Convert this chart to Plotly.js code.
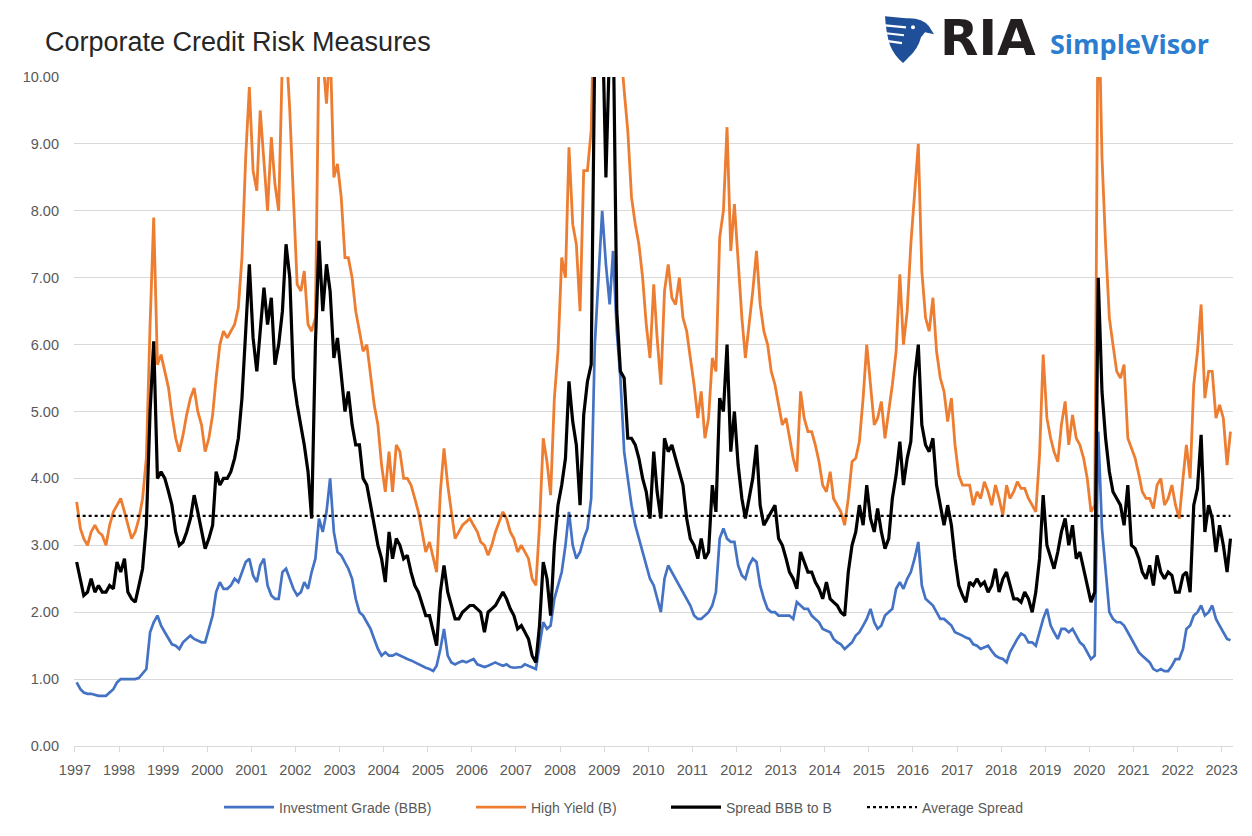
<!DOCTYPE html>
<html><head><meta charset="utf-8">
<script src="https://cdn.plot.ly/plotly-3.0.1.min.js"></script>
<style>html,body{margin:0;padding:0;background:#fff;}#chart{width:1252px;height:836px;}</style>
</head><body><div id="chart"></div>
<script>
// Monthly readings, Jan 1997 .. Mar 2023
const startYear = 1997;
const investmentGrade = [
0.95,0.85,0.80,0.78,0.78,0.76,0.75,0.75,0.75,0.80,0.85,0.95,
1.00,1.00,1.00,1.00,1.00,1.02,1.08,1.15,1.70,1.85,1.95,1.80,
1.70,1.60,1.52,1.50,1.45,1.55,1.60,1.65,1.60,1.58,1.55,1.55,
1.75,1.95,2.30,2.45,2.35,2.35,2.40,2.50,2.45,2.60,2.75,2.80,
2.55,2.45,2.70,2.80,2.40,2.25,2.20,2.20,2.60,2.65,2.50,2.35,
2.25,2.30,2.45,2.35,2.60,2.80,3.40,3.20,3.50,4.00,3.20,2.90,
2.85,2.75,2.65,2.50,2.20,2.00,1.95,1.85,1.75,1.60,1.45,1.35,
1.40,1.35,1.35,1.38,1.35,1.32,1.30,1.28,1.25,1.22,1.20,1.17,
1.15,1.12,1.20,1.45,1.75,1.35,1.25,1.22,1.25,1.27,1.25,1.27,
1.30,1.22,1.20,1.18,1.20,1.22,1.25,1.22,1.20,1.22,1.18,1.17,
1.17,1.18,1.22,1.20,1.17,1.15,1.50,1.85,1.75,1.80,2.20,2.40,
2.60,3.00,3.50,3.00,2.80,2.90,3.10,3.25,3.70,6.00,7.00,8.00,
7.20,6.60,7.40,6.20,5.50,4.40,4.00,3.60,3.30,3.10,2.90,2.70,
2.50,2.40,2.20,2.00,2.50,2.70,2.60,2.50,2.40,2.30,2.20,2.10,
1.95,1.90,1.90,1.95,2.00,2.10,2.30,3.10,3.25,3.10,3.05,3.05,
2.70,2.55,2.50,2.70,2.80,2.75,2.40,2.20,2.05,2.00,2.00,1.95,
1.95,1.95,1.95,1.90,2.15,2.10,2.05,2.05,1.95,1.90,1.85,1.75,
1.72,1.70,1.60,1.55,1.52,1.45,1.50,1.55,1.65,1.70,1.80,1.90,
2.05,1.85,1.75,1.80,1.95,2.00,2.05,2.35,2.45,2.35,2.50,2.60,
2.80,3.05,2.40,2.20,2.15,2.10,2.00,1.90,1.90,1.85,1.80,1.70,
1.68,1.65,1.62,1.60,1.52,1.50,1.45,1.47,1.50,1.42,1.35,1.32,
1.30,1.25,1.40,1.50,1.60,1.68,1.65,1.55,1.55,1.50,1.70,1.90,
2.05,1.80,1.70,1.60,1.75,1.75,1.70,1.75,1.65,1.55,1.50,1.40,
1.30,1.35,4.70,3.25,2.60,2.00,1.90,1.85,1.85,1.80,1.70,1.60,
1.50,1.40,1.35,1.30,1.25,1.15,1.12,1.15,1.12,1.12,1.20,1.30,
1.30,1.45,1.75,1.80,1.95,2.00,2.10,1.95,2.00,2.10,1.90,1.80,
1.70,1.60,1.58];
const highYield = [
3.65,3.25,3.10,3.00,3.20,3.30,3.20,3.15,3.00,3.30,3.50,3.60,
3.70,3.50,3.30,3.10,3.20,3.40,3.70,4.30,6.30,7.90,5.70,5.85,
5.60,5.35,4.95,4.60,4.40,4.65,4.95,5.20,5.35,5.00,4.80,4.40,
4.60,4.95,5.50,6.00,6.20,6.10,6.20,6.30,6.55,7.30,8.80,9.85,
8.60,8.30,9.50,8.80,8.00,9.10,8.40,8.00,10.30,10.50,9.50,8.20,
6.90,6.80,7.10,6.30,6.20,6.40,10.50,10.30,9.60,10.50,8.50,8.70,
8.20,7.30,7.30,7.00,6.50,6.20,5.90,6.00,5.50,5.10,4.80,4.20,
3.80,4.40,3.80,4.50,4.40,4.00,4.00,3.90,3.70,3.50,3.20,2.90,
3.05,2.80,2.60,3.80,4.45,3.90,3.50,3.10,3.20,3.30,3.35,3.40,
3.30,3.20,3.05,3.00,2.85,3.00,3.20,3.35,3.50,3.40,3.20,3.10,
2.90,3.00,2.90,2.80,2.50,2.40,3.30,4.60,4.25,3.75,5.20,5.90,
7.30,7.00,8.95,7.80,7.50,6.50,8.60,8.60,9.20,12.00,15.00,17.00,
14.00,15.00,15.00,12.00,10.50,9.80,9.20,8.20,7.80,7.50,7.00,6.30,
5.80,6.90,6.10,5.40,6.80,7.20,6.70,6.60,7.00,6.40,6.20,5.80,
5.40,4.90,5.30,4.60,4.90,5.80,5.60,7.60,8.00,9.25,7.40,8.10,
7.20,6.40,5.80,6.30,6.80,7.40,6.60,6.20,6.00,5.60,5.40,5.10,
4.80,4.90,4.60,4.30,4.10,5.30,4.90,4.70,4.70,4.50,4.25,3.90,
3.80,4.10,3.70,3.60,3.50,3.30,3.70,4.25,4.30,4.55,5.20,6.00,
5.40,4.80,4.90,5.15,4.60,5.00,5.40,5.90,7.05,6.00,6.50,7.50,
8.30,9.00,7.10,6.40,6.20,6.70,5.90,5.50,5.30,4.85,5.20,4.50,
4.05,3.90,3.90,3.90,3.60,3.80,3.70,3.95,3.80,3.60,3.90,3.70,
3.45,3.90,3.70,3.80,3.95,3.85,3.85,3.70,3.60,3.50,4.35,5.85,
4.90,4.60,4.40,4.25,4.80,5.15,4.50,4.95,4.60,4.50,4.30,4.00,
3.50,3.60,11.50,8.80,7.50,6.40,6.00,5.60,5.50,5.70,4.60,4.45,
4.30,4.05,3.80,3.70,3.70,3.55,3.90,4.00,3.60,3.70,3.90,3.60,
3.40,4.00,4.50,4.00,5.40,5.90,6.60,5.20,5.60,5.60,4.90,5.10,
4.90,4.20,4.70];
const spreadBBBtoB = [
2.75,2.50,2.25,2.30,2.50,2.30,2.40,2.30,2.30,2.40,2.35,2.75,
2.60,2.80,2.30,2.20,2.15,2.40,2.65,3.30,5.00,6.05,4.00,4.10,
4.00,3.80,3.60,3.20,3.00,3.05,3.20,3.40,3.75,3.50,3.20,2.95,
3.10,3.30,4.10,3.90,4.00,4.00,4.10,4.30,4.60,5.20,6.20,7.20,
6.10,5.60,6.20,6.85,6.30,6.70,5.70,6.00,6.50,7.50,7.00,5.50,
5.10,4.80,4.50,4.10,3.40,6.00,7.55,6.50,7.20,6.80,5.80,6.10,
5.50,5.00,5.30,4.80,4.50,4.50,4.00,3.90,3.60,3.30,3.00,2.80,
2.45,3.20,2.80,3.10,3.00,2.80,2.85,2.60,2.40,2.30,2.10,1.95,
1.95,1.70,1.50,2.30,2.70,2.30,2.10,1.90,1.90,2.00,2.05,2.10,
2.10,2.05,2.00,1.70,2.00,2.05,2.10,2.20,2.30,2.20,2.05,1.95,
1.75,1.80,1.70,1.60,1.35,1.25,1.80,2.75,2.50,1.95,3.00,3.60,
3.90,4.30,5.45,4.85,4.50,3.60,4.95,5.45,5.70,10.50,11.00,11.00,
8.50,10.50,11.00,6.50,5.60,5.50,4.60,4.60,4.50,4.30,4.00,3.80,
3.40,4.40,3.80,3.40,4.60,4.40,4.50,4.30,4.10,3.90,3.40,3.10,
3.00,2.80,3.10,2.80,2.90,3.90,3.50,5.20,5.00,6.00,4.40,5.00,
4.20,3.70,3.40,3.70,4.00,4.50,3.60,3.30,3.40,3.50,3.60,3.10,
3.00,2.80,2.60,2.50,2.35,2.90,2.75,2.60,2.60,2.45,2.35,2.20,
2.45,2.20,2.15,2.10,2.00,1.95,2.60,3.00,3.20,3.60,3.30,3.90,
3.40,3.20,3.55,3.20,2.95,3.10,3.70,4.05,4.55,3.90,4.30,4.55,
5.50,6.00,4.80,4.50,4.40,4.60,3.90,3.60,3.30,3.60,3.30,2.80,
2.40,2.25,2.15,2.45,2.40,2.50,2.40,2.45,2.30,2.40,2.65,2.30,
2.50,2.60,2.40,2.20,2.20,2.15,2.30,2.20,2.00,2.30,2.80,3.75,
3.00,2.80,2.65,2.90,3.20,3.40,3.00,3.30,2.80,2.90,2.65,2.40,
2.15,2.30,7.00,5.30,4.60,4.10,3.80,3.70,3.60,3.30,3.90,3.00,
2.95,2.80,2.60,2.50,2.70,2.40,2.85,2.60,2.50,2.60,2.55,2.30,
2.30,2.55,2.60,2.30,3.60,3.85,4.65,3.20,3.60,3.40,2.90,3.30,
3.00,2.60,3.10];
const averageSpread = 3.44;
const seriesNames = ["Investment Grade (BBB)", "High Yield (B)", "Spread BBB to B", "Average Spread"];
const yTickValues = [0,1,2,3,4,5,6,7,8,9,10];

function pad(n){return (n<10?'0':'')+n;}
const dates = investmentGrade.map((_, i) => (startYear + Math.floor(i/12)) + '-' + pad(i%12+1) + '-15');

// layout geometry (pixels)
const L = 74, T = 77, W = 1159, H = 673;
function px(x){return (x - L)/W;}
function py(y){return (T + H - y)/H;}

const eagle = 'M ' + px(885)+','+py(16) +
  ' L ' + px(906)+','+py(18) +
  ' Q ' + px(922)+','+py(17) + ' ' + px(929)+','+py(26) +
  ' L ' + px(934)+','+py(34) +
  ' L ' + px(925)+','+py(32) +
  ' L ' + px(921)+','+py(37) +
  ' Q ' + px(918)+','+py(49) + ' ' + px(908)+','+py(58) +
  ' L ' + px(903)+','+py(63) +
  ' Q ' + px(894)+','+py(55) + ' ' + px(890)+','+py(45) +
  ' Q ' + px(886)+','+py(33) + ' ' + px(885)+','+py(16) + ' Z';
function seg(x0,y0,x1,y1){return 'M '+px(x0)+','+py(y0)+' L '+px(x1)+','+py(y1);}

const traces = [
  {x: dates, y: investmentGrade, name: seriesNames[0], type: 'scatter', mode: 'lines',
   line: {color: '#4472C4', width: 2.7}, legend: 'legend'},
  {x: dates, y: highYield, name: seriesNames[1], type: 'scatter', mode: 'lines',
   line: {color: '#ED7D31', width: 2.8}, legend: 'legend2'},
  {x: dates, y: spreadBBBtoB, name: seriesNames[2], type: 'scatter', mode: 'lines',
   line: {color: '#000000', width: 3.2}, legend: 'legend3'},
  {x: [dates[0], dates[dates.length-1]], y: [averageSpread, averageSpread], name: seriesNames[3],
   type: 'scatter', mode: 'lines', line: {color: '#000000', width: 2.2, dash: 'dot'}, legend: 'legend4'}
];

function legendAt(xPix){
  return {orientation: 'h', x: px(xPix), xanchor: 'left', y: -0.092, yanchor: 'middle',
          font: {size: 14, color: '#595959'}, itemwidth: 50, bgcolor: 'rgba(0,0,0,0)'};
}

const layout = {
  width: 1252, height: 836,
  margin: {l: L, r: 1252 - L - W, t: T, b: 836 - T - H},
  paper_bgcolor: '#ffffff', plot_bgcolor: '#ffffff',
  font: {family: 'Liberation Sans, Arial, sans-serif', color: '#595959', size: 13},
  title: {text: 'Corporate Credit Risk Measures', x: 45/1252, xanchor: 'left', xref: 'container',
          y: 1 - 42/836, yanchor: 'middle', yref: 'container',
          font: {family: 'Liberation Sans, Arial, sans-serif', size: 27, color: '#262626'}},
  showlegend: true,
  legend: legendAt(219),
  legend2: legendAt(471),
  legend3: legendAt(666),
  legend4: legendAt(862),
  xaxis: {type: 'date', range: ['1996-12-24', '2023-04-05'], tickformat: '%Y', dtick: 'M12',
          tick0: '1997-01-01', showgrid: false, zeroline: false, showline: true,
          linecolor: '#d9d9d9', linewidth: 1, ticks: 'outside', ticklen: 5, tickcolor: '#d9d9d9',
          ticklabelstandoff: 6,
          tickfont: {size: 14.5, color: '#595959'}, fixedrange: true},
  yaxis: {range: [0, 10], tickvals: yTickValues, tickformat: '.2f', showgrid: true,
          gridcolor: '#d9d9d9', gridwidth: 1, zeroline: false, showline: false, ticks: '',
          ticklabelstandoff: 14,
          tickfont: {size: 14.5, color: '#595959'}, fixedrange: true},
  shapes: [
    {type: 'path', xref: 'paper', yref: 'paper', path: eagle, fillcolor: '#1f4f99', line: {width: 0}},
    {type: 'path', xref: 'paper', yref: 'paper', path: seg(885,25,906,27), line: {color: '#ffffff', width: 2.2}},
    {type: 'path', xref: 'paper', yref: 'paper', path: seg(886,33,904,35), line: {color: '#ffffff', width: 2.2}},
    {type: 'path', xref: 'paper', yref: 'paper', path: seg(888,41,902,43), line: {color: '#ffffff', width: 2.2}},
    {type: 'circle', xref: 'paper', yref: 'paper', x0: px(911), x1: px(915), y0: py(29), y1: py(25),
     fillcolor: '#ffffff', line: {width: 0}}
  ],
  annotations: [
    {text: '<b>RIA</b>', xref: 'paper', yref: 'paper', x: px(938), y: py(38), xanchor: 'left', yanchor: 'middle',
     showarrow: false, font: {family: 'DejaVu Sans, Liberation Sans, sans-serif', size: 50, color: '#231f20'}},
    {text: '<b>SimpleVisor</b>', xref: 'paper', yref: 'paper', x: px(1048), y: py(43), xanchor: 'left', yanchor: 'middle',
     showarrow: false, font: {family: 'Open Sans, Liberation Sans, sans-serif', size: 27, color: '#2a7dcf'}}
  ]
};

Plotly.newPlot('chart', traces, layout, {displayModeBar: false, staticPlot: true});
</script>
</body></html>
